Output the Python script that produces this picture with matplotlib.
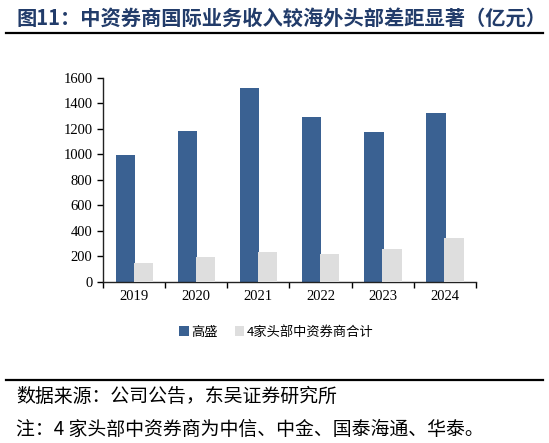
import matplotlib
matplotlib.use("Agg")
import matplotlib.pyplot as plt
import numpy as np
from matplotlib.lines import Line2D

plt.rcParams['font.family'] = ['Noto Sans CJK SC', 'DejaVu Sans']

years = ["2019", "2020", "2021", "2022", "2023", "2024"]
goldman = [997, 1182, 1519, 1294, 1175, 1321]
top4_cn = [149, 192, 238, 219, 258, 342]
series_names = ["高盛", "4家头部中资券商合计"]

TITLE = "图11：中资券商国际业务收入较海外头部差距显著（亿元）"
SOURCE = "数据来源：公司公告，东吴证券研究所"
NOTE = "注：4 家头部中资券商为中信、中金、国泰海通、华泰。"

BLUE = "#3A6192"
GRAY = "#DEDEDE"
NAVY = "#223C6A"

fig = plt.figure(figsize=(5.49, 4.43), dpi=100)
ax = fig.add_axes([0.1876, 0.3634, 0.679, 0.4612])

x = np.arange(len(years))
w = 0.31
ax.bar(x - 0.14, goldman, width=w, color=BLUE, label=series_names[0], zorder=2)
ax.bar(x + 0.15, top4_cn, width=w, color=GRAY, label=series_names[1], zorder=3)

ax.set_xlim(-0.5, len(years) - 0.5)
ax.set_ylim(0, 1600)
ax.set_yticks(range(0, 1601, 200))
ax.set_xticks(x)
ax.set_xticklabels(years)
ax.set_xticks(np.arange(-0.5, len(years), 1.0), minor=True)
ax.tick_params(axis='x', which='major', length=0, pad=6)
ax.tick_params(axis='x', which='minor', length=4, direction='out', width=1)
ax.tick_params(axis='y', length=4, direction='out', width=1)
for lab in ax.get_xticklabels() + ax.get_yticklabels():
    lab.set_fontfamily('Liberation Serif')
    lab.set_fontsize(10.5)
for s in ["top", "right"]:
    ax.spines[s].set_visible(False)
for s in ["left", "bottom"]:
    ax.spines[s].set_linewidth(1)
    ax.spines[s].set_color("#222222")

ax.legend(loc='center', bbox_to_anchor=(0.465, -0.245), ncol=2, frameon=False,
          fontsize=9.5, handlelength=0.7, handleheight=0.7, handletextpad=0.2,
          columnspacing=1.3)

fig.text(0.03, 0.96, TITLE, fontsize=14.6, fontweight='bold', color=NAVY,
         va='center', ha='left')
fig.add_artist(Line2D([0.011, 0.989], [0.925, 0.925], color='black', lw=1.6,
                      transform=fig.transFigure))
fig.add_artist(Line2D([0.011, 0.989], [0.142, 0.142], color='black', lw=1.6,
                      transform=fig.transFigure))
fig.text(0.03, 0.106, SOURCE, fontsize=13.6, va='center', ha='left')
fig.text(0.03, 0.030, NOTE, fontsize=13.6, va='center', ha='left')

fig.savefig("out.png", dpi=100)
